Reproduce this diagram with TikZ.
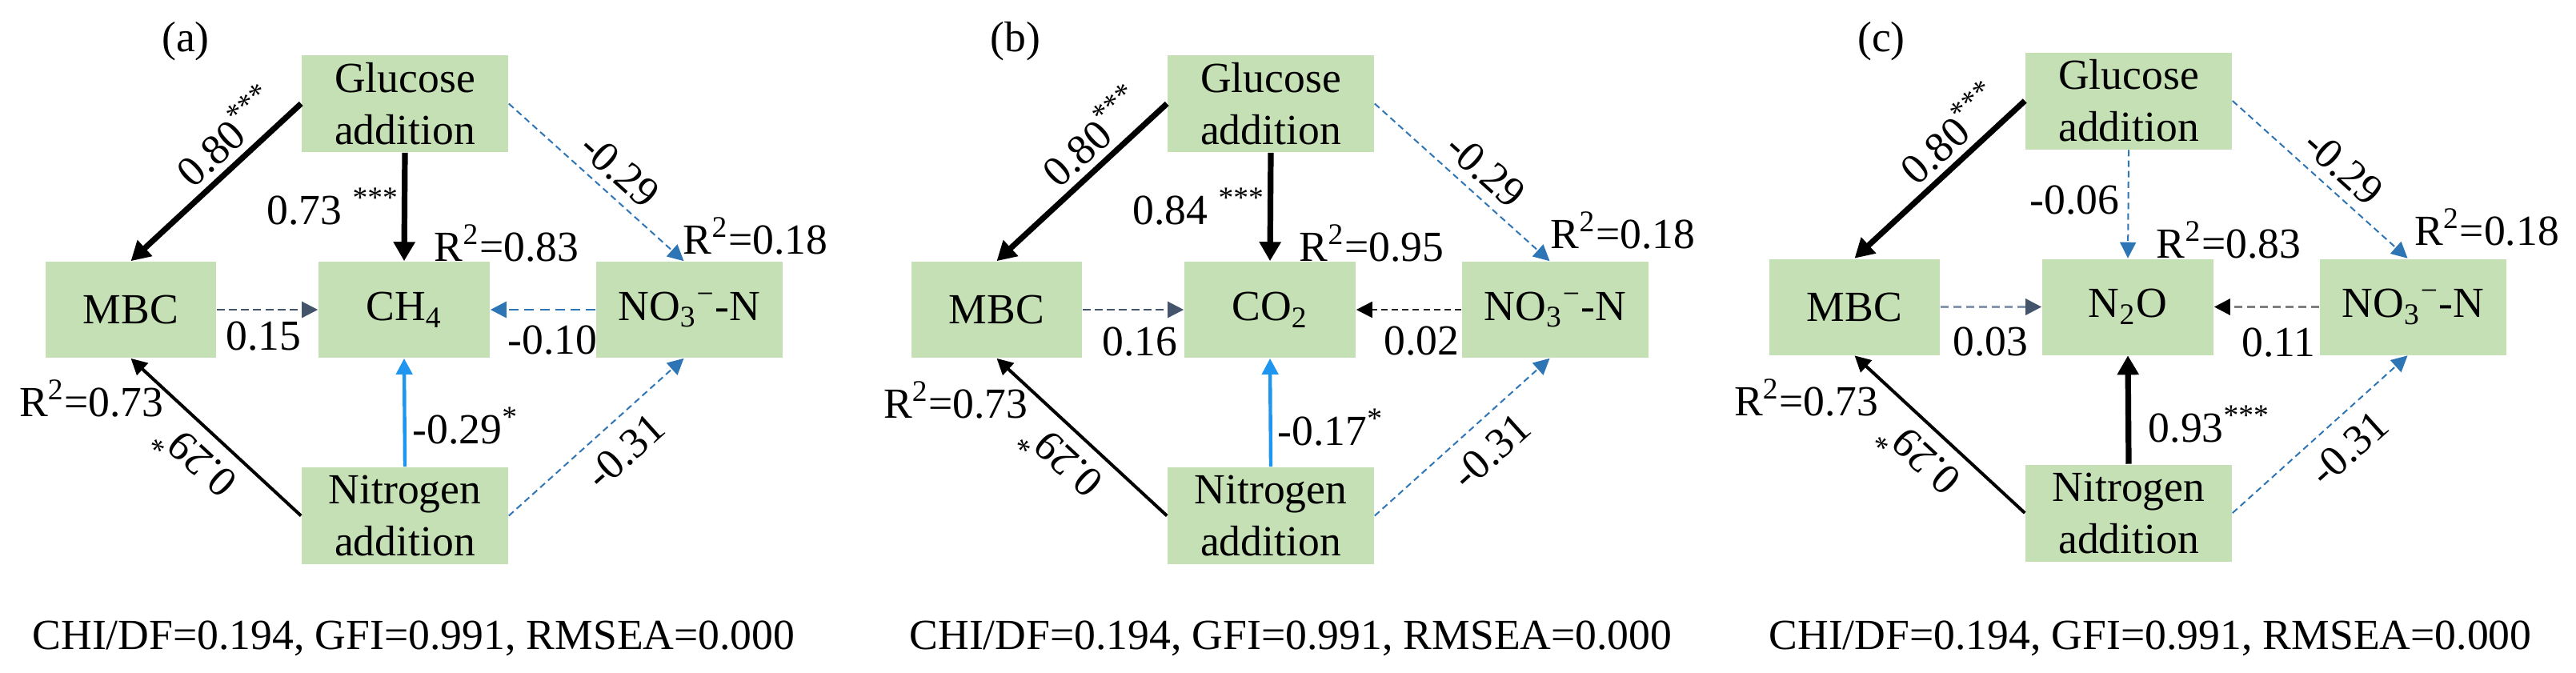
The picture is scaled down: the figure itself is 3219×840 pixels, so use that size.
\documentclass[tikz,border=0pt]{standalone}
\usepackage{fontspec}
\setmainfont{Liberation Serif}
\newfontfamily\tnrfont{Liberation Serif}
\usetikzlibrary{arrows.meta,calc}
\definecolor{boxgreen}{HTML}{C5E0B4}
\definecolor{dblue}{HTML}{2E75B6}
\definecolor{lblue}{HTML}{1E96F0}
\definecolor{slate}{HTML}{44546A}
\definecolor{slatelt}{HTML}{8497B0}
\definecolor{midgray}{HTML}{7F7F7F}
\definecolor{dkgray}{HTML}{262626}
\newcommand{\lblfont}{\tnrfont\fontsize{13.4pt}{16.25pt}\selectfont}
\begin{document}
\begin{tikzpicture}[x=0.25pt,y=-0.25pt,
  every node/.style={font=\lblfont, inner sep=0pt, text=black},
  box/.style={rectangle, fill=boxgreen, align=center, minimum height=30pt},
  wbox/.style={box, minimum width=64.5pt, minimum height=30.25pt},
  mbox/.style={box, minimum width=53.25pt},
  cbox/.style={box, minimum width=53.5pt},
  nbox/.style={box, minimum width=58.25pt},
  bigtip/.style={-{Triangle[length=6pt,width=6.5pt]}},
  smtip/.style={-{Triangle[length=5pt,width=5pt]}},
  thickblk/.style={bigtip, line width=1.8pt, black},
  medblk/.style={smtip, line width=1pt, black},
  ltblue/.style={smtip, line width=1.1pt, lblue},
  thinblue/.style={smtip, line width=0.5pt, dblue, dash pattern=on 2pt off 1.3pt},
  bluedash/.style={smtip, line width=0.7pt, dblue, dash pattern=on 3pt off 1.8pt},
  slatedash/.style={smtip, line width=0.6pt, slate, dash pattern=on 2.5pt off 1.3pt},
  slateltdash/.style={-{Triangle[length=5pt,width=5pt,color=slate]}, line width=0.8pt, slatelt, dash pattern=on 2.5pt off 1.5pt},
  graydash/.style={-{Triangle[length=5pt,width=5pt,color=black]}, line width=0.8pt, midgray, dash pattern=on 2.5pt off 1.5pt},
  darkdash/.style={-{Triangle[length=5pt,width=5pt,color=black]}, line width=0.5pt, dkgray, dash pattern=on 2pt off 1.3pt},
]
\useasboundingbox (0,0) rectangle (3219,840);

% ---------------- panel (a) ----------------
\begin{scope}[shift={(0,0)}]
\node[wbox] (aG) at (506,129.5) {Glucose\\addition};
\node[mbox] (aM) at (163.5,387) {MBC};
\node[cbox] (aC) at (505,387) {CH\textsubscript{4}};
\node[nbox] (aN) at (861.5,387) {NO\textsubscript{3}\textsuperscript{−}-N};
\node[wbox] (aA) at (506,644.5) {Nitrogen\\addition};
\draw[thickblk] (aG.west) -- node[pos=0.33,sloped,above,inner sep=2pt]{0.80\textsuperscript{***}} (aM.north);
\draw[thickblk] (aG.south) -- node[pos=0.5,anchor=east,xshift=-0.75pt]{0.73 \textsuperscript{***}} (aC.north);
\draw[thinblue] (aG.east) -- node[pos=0.54,sloped,above,inner sep=3pt]{-0.29} ($(aN.north)+(-7,0)$);
\draw[slatedash] (aM.east) -- (aC.west);
\draw[bluedash] (aN.west) -- (aC.east);
\draw[medblk] (aA.west) -- node[pos=0.5,sloped,allow upside down,above,inner sep=4pt]{0.29\textsuperscript{*}} (aM.south);
\draw[ltblue] (aA.north) -- (aC.south);
\draw[thinblue] (aA.east) -- node[pos=0.55,sloped,below,inner sep=4.5pt]{-0.31} ($(aN.south)+(-7,0)$);
\node[anchor=base west] (aR1) at ($(aC.north)+(37,0)$) {R\textsuperscript{2}=0.83};
\node[anchor=base west] (aR2) at ($(aN.north)+(-8.5,-9)$) {R\textsuperscript{2}=0.18};
\node[anchor=base west] (aR3) at ($(aM.south west)+(-33,73)$) {R\textsuperscript{2}=0.73};
\node[anchor=base east] (aL1) at ($(aC.south west)+(-20,-10)$) {0.15};
\node[anchor=base east] (aL2) at ($(aN.south west)+(3,-5)$) {-0.10};
\node[anchor=base west] (aL3) at ($(aA.north)+(9,-29)$) {-0.29\textsuperscript{*}};
\node (aT) at (232,52) {(a)};
\node[anchor=base] (aF) at (517,811) {CHI/DF=0.194, GFI=0.991, RMSEA=0.000};
\end{scope}

% ---------------- panel (b) ----------------
\begin{scope}[shift={(1082,0)}]
\node[wbox] (bG) at (506,129.5) {Glucose\\addition};
\node[mbox] (bM) at (163.5,387) {MBC};
\node[cbox] (bC) at (505,387) {CO\textsubscript{2}};
\node[nbox] (bN) at (861.5,387) {NO\textsubscript{3}\textsuperscript{−}-N};
\node[wbox] (bA) at (506,644.5) {Nitrogen\\addition};
\draw[thickblk] (bG.west) -- node[pos=0.33,sloped,above,inner sep=2pt]{0.80\textsuperscript{***}} (bM.north);
\draw[thickblk] (bG.south) -- node[pos=0.5,anchor=east,xshift=-0.75pt]{0.84 \textsuperscript{***}} (bC.north);
\draw[thinblue] (bG.east) -- node[pos=0.54,sloped,above,inner sep=3pt]{-0.29} ($(bN.north)+(-7,0)$);
\draw[slatedash] (bM.east) -- (bC.west);
\draw[darkdash] (bN.west) -- (bC.east);
\draw[medblk] (bA.west) -- node[pos=0.5,sloped,allow upside down,above,inner sep=4pt]{0.29\textsuperscript{*}} (bM.south);
\draw[ltblue] (bA.north) -- (bC.south);
\draw[thinblue] (bA.east) -- node[pos=0.55,sloped,below,inner sep=4.5pt]{-0.31} ($(bN.south)+(-7,0)$);
\node[anchor=base west] (bR1) at ($(bC.north)+(36,0)$) {R\textsuperscript{2}=0.95};
\node[anchor=base west] (bR2) at ($(bN.north)+(-6.5,-16)$) {R\textsuperscript{2}=0.18};
\node[anchor=base west] (bR3) at ($(bM.south west)+(-35,75)$) {R\textsuperscript{2}=0.73};
\node[anchor=base east] (bL1) at ($(bC.south west)+(-7,-3)$) {0.16};
\node[anchor=base east] (bL2) at ($(bN.south west)+(-2,-4)$) {0.02};
\node[anchor=base west] (bL3) at ($(bA.north)+(8,-27)$) {-0.17\textsuperscript{*}};
\node (bT) at (187,52) {(b)};
\node[anchor=base] (bF) at (531,811) {CHI/DF=0.194, GFI=0.991, RMSEA=0.000};
\end{scope}

% ---------------- panel (c) ----------------
\begin{scope}[shift={(2154,-3.5)}]
\node[wbox] (cG) at (506,129.5) {Glucose\\addition};
\node[mbox] (cM) at (163.5,387) {MBC};
\node[cbox] (cC) at (505,387) {N\textsubscript{2}O};
\node[nbox] (cN) at (861.5,387) {NO\textsubscript{3}\textsuperscript{−}-N};
\node[wbox] (cA) at (506,644.5) {Nitrogen\\addition};
\draw[thickblk] (cG.west) -- node[pos=0.33,sloped,above,inner sep=2pt]{0.80\textsuperscript{***}} (cM.north);
\draw[thinblue] (cG.south) -- node[pos=0.5,anchor=east,xshift=-2.5pt,yshift=1.2pt]{-0.06} (cC.north);
\draw[thinblue] (cG.east) -- node[pos=0.54,sloped,above,inner sep=3pt]{-0.29} ($(cN.north)+(-7,0)$);
\draw[slateltdash] (cM.east) -- (cC.west);
\draw[graydash] (cN.west) -- (cC.east);
\draw[medblk] (cA.west) -- node[pos=0.5,sloped,allow upside down,above,inner sep=4pt]{0.29\textsuperscript{*}} (cM.south);
\draw[thickblk] (cA.north) -- (cC.south);
\draw[thinblue] (cA.east) -- node[pos=0.55,sloped,below,inner sep=4.5pt]{-0.31} ($(cN.south)+(-7,0)$);
\node[anchor=base west] (cR1) at ($(cC.north)+(35,0)$) {R\textsuperscript{2}=0.83};
\node[anchor=base west] (cR2) at ($(cN.north)+(1,-16)$) {R\textsuperscript{2}=0.18};
\node[anchor=base west] (cR3) at ($(cM.south west)+(-44,75)$) {R\textsuperscript{2}=0.73};
\node[anchor=base east] (cL1) at ($(cC.south west)+(-16,0)$) {0.03};
\node[anchor=base east] (cL2) at ($(cN.south west)+(-4,1)$) {0.11};
\node[anchor=base west] (cL3) at ($(cA.north)+(24,-27)$) {0.93\textsuperscript{***}};
\node (cT) at (197,55.5) {(c)};
\node[anchor=base] (cF) at (533,814.5) {CHI/DF=0.194, GFI=0.991, RMSEA=0.000};
\end{scope}
\end{tikzpicture}
\end{document}
